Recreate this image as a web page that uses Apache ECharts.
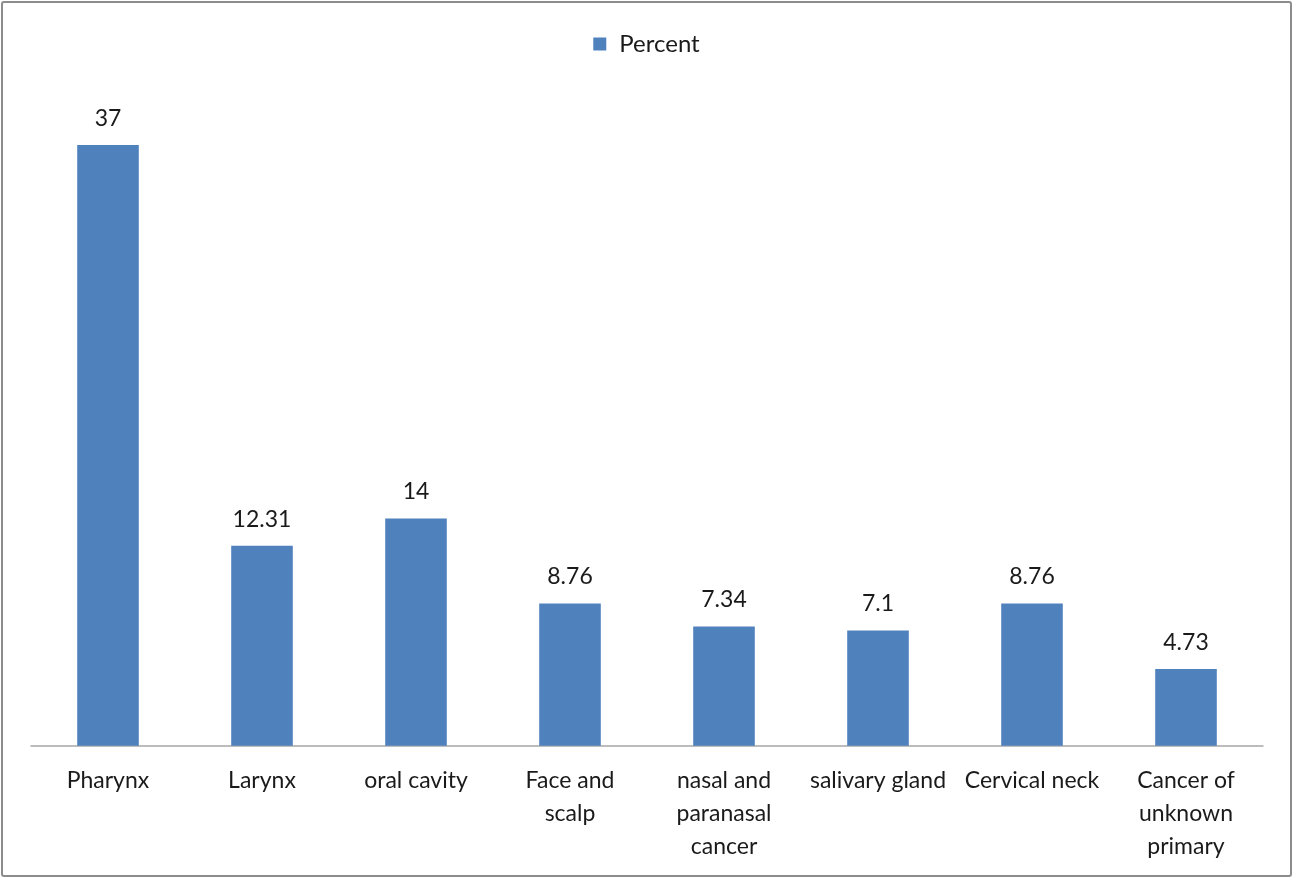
<!DOCTYPE html>
<html>
<head>
<meta charset="utf-8">
<script src="https://cdn.jsdelivr.net/npm/echarts@6/dist/echarts.min.js"></script>
<style>
  html, body { margin: 0; padding: 0; background: #fff; }
  #frame { position: absolute; left: 1px; top: 1px; width: 1287px; height: 872px; border: 2px solid #8c8c8c; border-radius: 3px; }
  #chart { position: absolute; left: 0; top: 0; width: 1293px; height: 878px; }
</style>
</head>
<body>
<div id="frame"></div>
<div id="chart"></div>
<script>
// Head and neck cancer sites, share of cases (%)
const categories = [
  'Pharynx',
  'Larynx',
  'oral cavity',
  'Face and\nscalp',
  'nasal and\nparanasal\ncancer',
  'salivary gland',
  'Cervical neck',
  'Cancer of\nunknown\nprimary'
];
const seriesName = 'Percent';
const percentValues = [37, 12.31, 14, 8.76, 7.34, 7.1, 8.76, 4.73];

const FONT = 'Lato, "Open Sans", sans-serif';

const chart = echarts.init(document.getElementById('chart'), null, { renderer: 'canvas' });
chart.setOption({
  animation: false,
  backgroundColor: 'transparent',
  textStyle: { fontFamily: FONT },
  legend: {
    data: [seriesName],
    top: 27,
    left: 'center',
    itemWidth: 13,
    itemHeight: 13,
    itemGap: 10,
    icon: 'rect',
    textStyle: { fontFamily: FONT, fontSize: 24, color: '#1a1a1a', padding: [0, 0, 0, 8] }
  },
  grid: { left: 31, right: 30, top: 96.3, bottom: 132.3, containLabel: false },
  xAxis: {
    type: 'category',
    data: categories,
    axisLine: { lineStyle: { color: '#a6a6a6', width: 1.5 } },
    axisTick: { show: false },
    axisLabel: {
      interval: 0,
      margin: 18,
      fontFamily: FONT,
      fontSize: 23,
      lineHeight: 33,
      color: '#1a1a1a',
      align: 'center'
    }
  },
  yAxis: {
    type: 'value',
    min: 0,
    max: 40,
    show: false,
    splitLine: { show: false }
  },
  series: [{
    name: seriesName,
    type: 'bar',
    data: percentValues,
    barCategoryGap: '60%',
    itemStyle: { color: '#4f81bd' },
    label: {
      show: true,
      position: 'top',
      distance: 15,
      fontFamily: FONT,
      fontSize: 23,
      color: '#1a1a1a'
    }
  }]
});
</script>
</body>
</html>
